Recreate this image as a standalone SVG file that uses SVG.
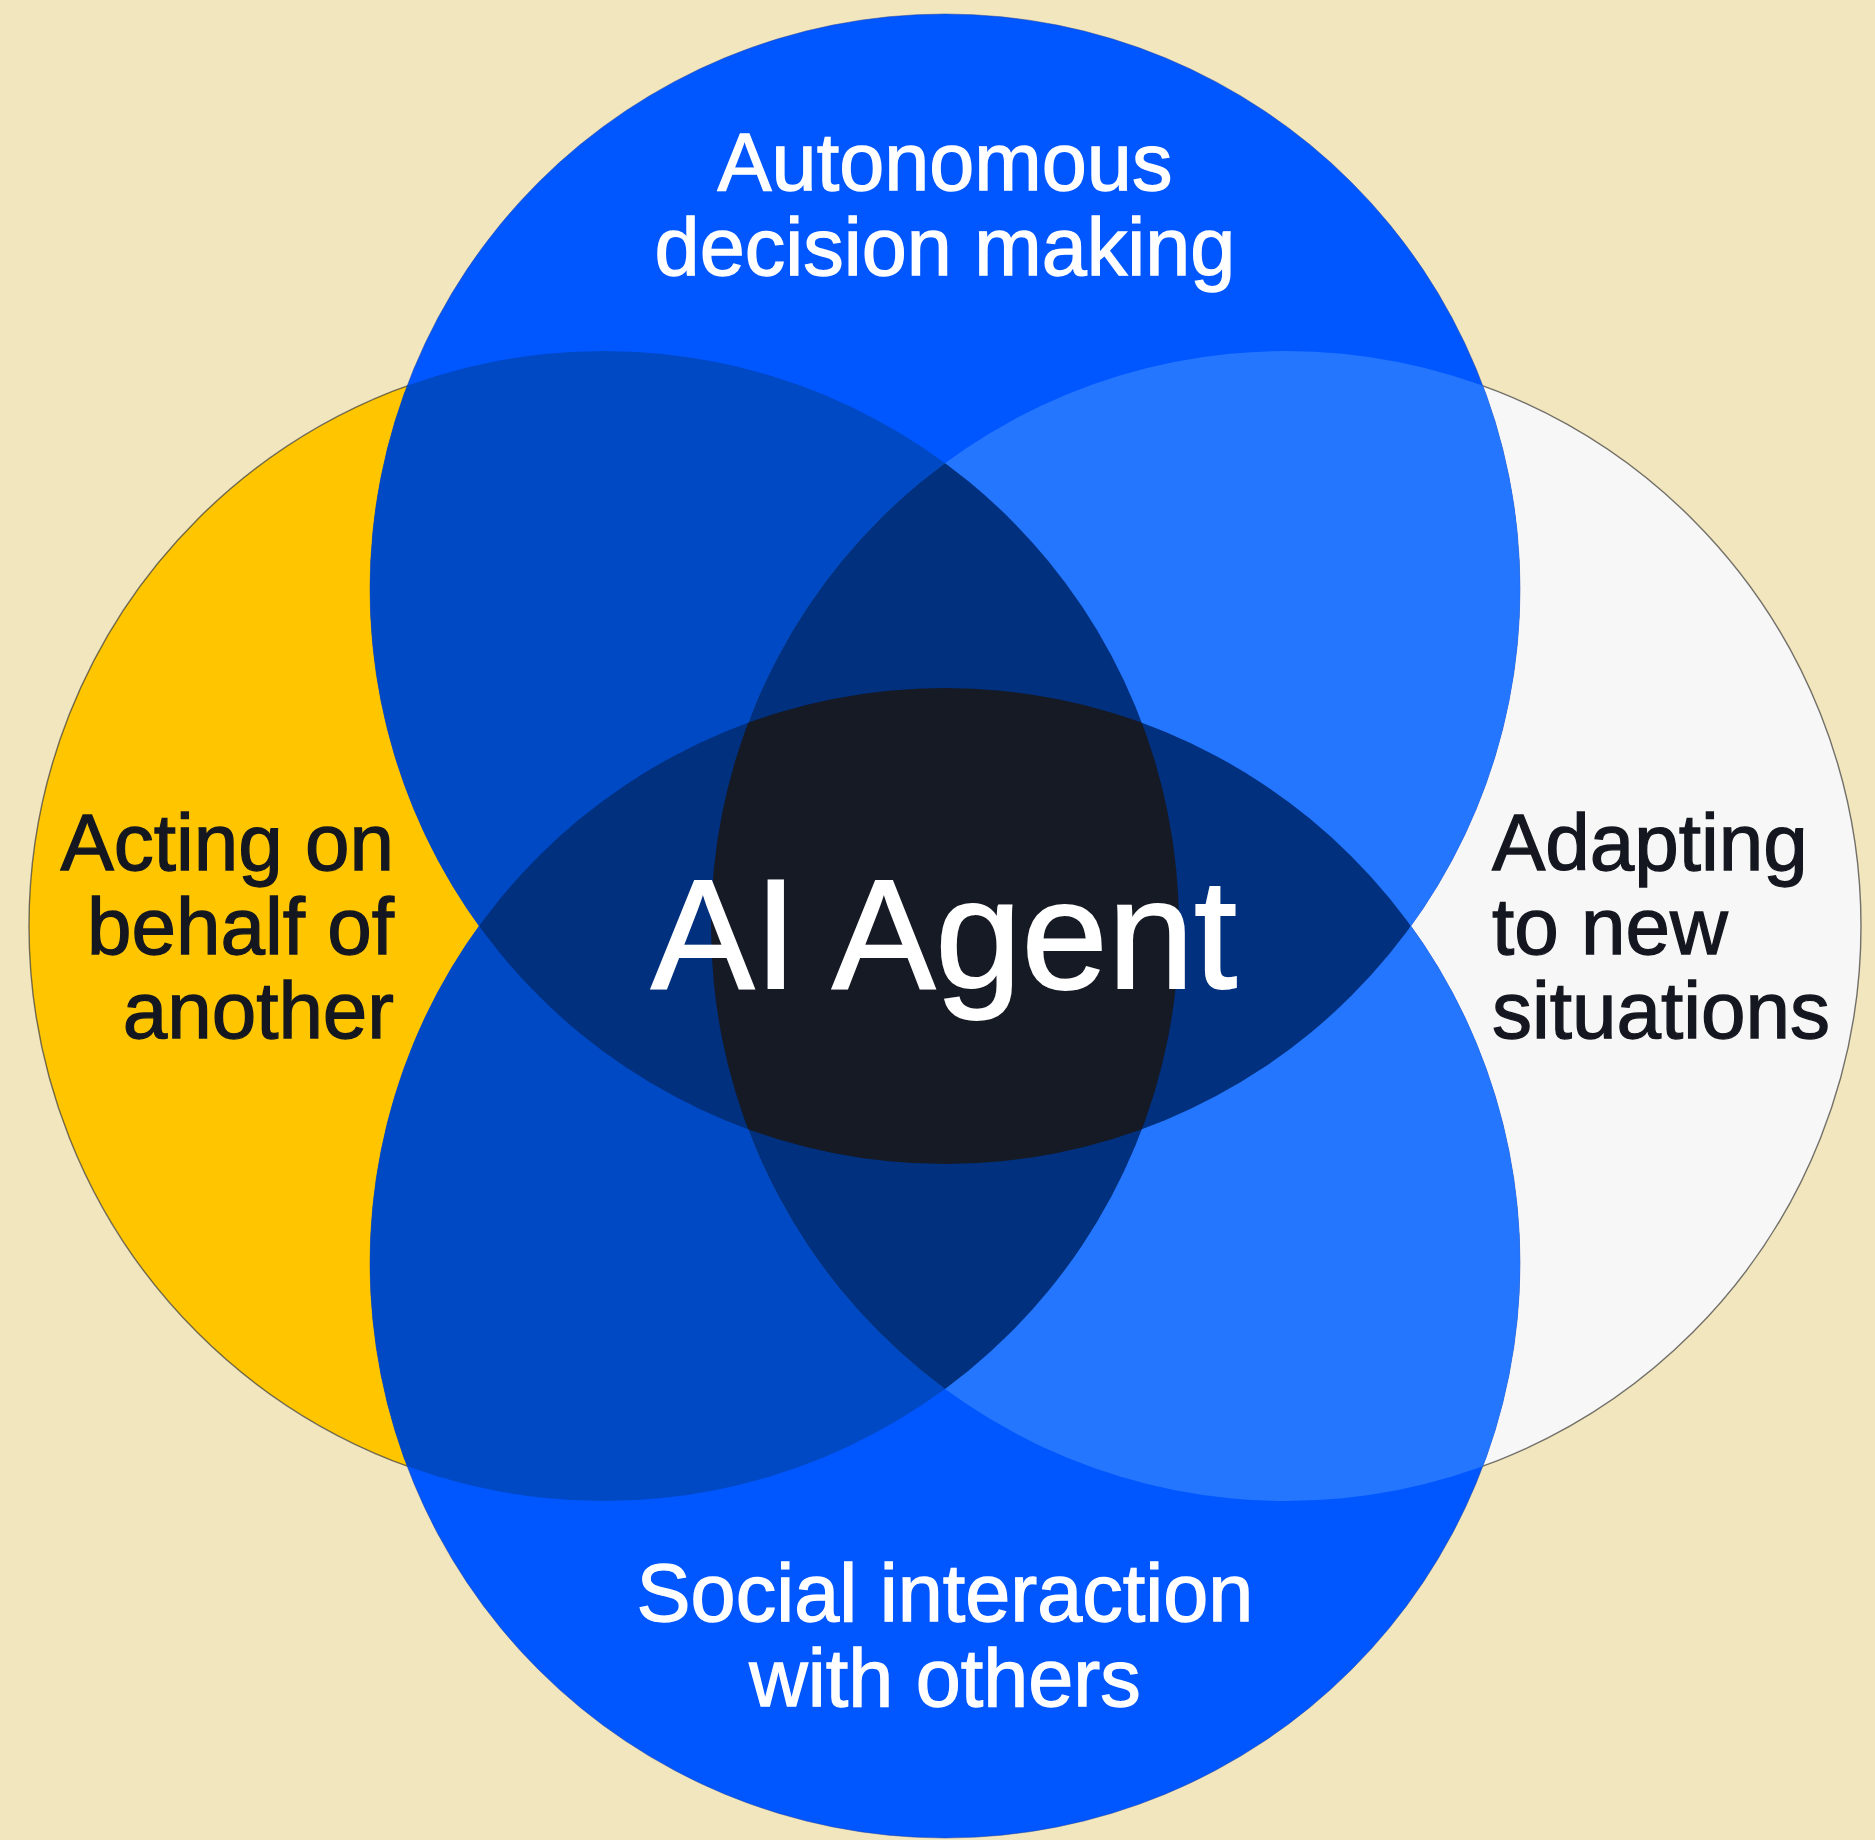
<svg xmlns="http://www.w3.org/2000/svg" width="1875" height="1840" viewBox="0 0 1875 1840">
  <style>
    .lbl { font-family: "Liberation Sans", Arial, sans-serif; font-size: 80px; stroke-width: 1.3; }
    .wide { font-size: 81px; }
    .light { fill: #FFFFFF; stroke: #FFFFFF; }
    .dark { fill: #14171F; stroke: #14171F; }
    .title { font-family: "Liberation Sans", Arial, sans-serif; font-size: 155px; fill: #FFFFFF; stroke: #FFFFFF; stroke-width: 1.8; }
    .edge { stroke: #3a3a3a; stroke-width: 1.4; stroke-opacity: 0.7; }
  </style>
  <defs>
    <circle id="cT" cx="945" cy="589" r="575"/>
    <circle id="cB" cx="945" cy="1263" r="575"/>
    <circle id="cLs" cx="604" cy="926" r="575"/>
    <circle id="cRs" cx="1286" cy="926" r="575"/>
    <clipPath id="clipTB"><use href="#cT"/><use href="#cB"/></clipPath>
    <clipPath id="clipB"><use href="#cB"/></clipPath>
    <clipPath id="clipR"><use href="#cRs"/></clipPath>
    <clipPath id="clipL"><use href="#cLs"/></clipPath>
  </defs>
  <rect x="0" y="0" width="1875" height="1840" fill="#F2E6BE"/>

  <g id="node-left">
    <circle cx="604" cy="926" r="575" fill="#FFC600" class="edge"/>
  </g>
  <g id="node-right">
    <circle cx="1286" cy="926" r="575" fill="#F7F7F7" class="edge"/>
  </g>
  <g id="node-top">
    <circle cx="945" cy="589" r="575" fill="#0056FF" stroke="#1d3f99" stroke-width="1" stroke-opacity="0.5"/>
  </g>
  <g id="node-bottom">
    <circle cx="945" cy="1263" r="575" fill="#0056FF" stroke="#1d3f99" stroke-width="1" stroke-opacity="0.5"/>
  </g>

  <g id="overlaps">
    <circle cx="604" cy="926" r="575" fill="#0049C5" clip-path="url(#clipTB)"/>
    <circle cx="1286" cy="926" r="575" fill="#2476FF" clip-path="url(#clipTB)"/>
    <circle cx="945" cy="589" r="575" fill="#00307E" clip-path="url(#clipB)"/>
    <circle cx="604" cy="926" r="575" fill="#00307E" clip-path="url(#clipR)"/>
    <g clip-path="url(#clipL)">
      <g clip-path="url(#clipR)">
        <circle cx="945" cy="589" r="575" fill="#161A25" clip-path="url(#clipB)"/>
      </g>
    </g>
  </g>

  <g id="connectors"/>

  <g id="label-top">
    <text class="lbl wide light" x="945" y="190" text-anchor="middle">Autonomous</text>
    <text class="lbl wide light" x="945" y="275" text-anchor="middle">decision making</text>
  </g>
  <g id="label-bottom">
    <text class="lbl wide light" x="945" y="1621" text-anchor="middle">Social interaction</text>
    <text class="lbl wide light" x="945" y="1706" text-anchor="middle">with others</text>
  </g>
  <g id="label-left">
    <text class="lbl dark" x="394" y="870" text-anchor="end">Acting on</text>
    <text class="lbl dark" x="394" y="954" text-anchor="end">behalf of</text>
    <text class="lbl dark" x="394" y="1038" text-anchor="end">another</text>
  </g>
  <g id="label-right">
    <text class="lbl dark" x="1492" y="870">Adapting</text>
    <text class="lbl dark" x="1492" y="954">to new</text>
    <text class="lbl dark" x="1492" y="1038">situations</text>
  </g>
  <g id="node-center">
    <text class="title" x="944" y="988" text-anchor="middle">AI Agent</text>
  </g>
</svg>
